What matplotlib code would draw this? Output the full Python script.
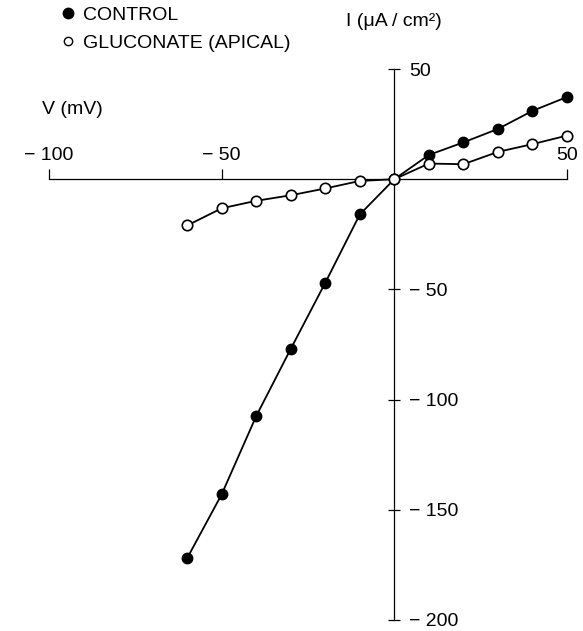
import matplotlib.pyplot as plt
from matplotlib.lines import Line2D

plt.rcParams['font.family'] = ['Liberation Sans', 'DejaVu Sans']
plt.rcParams['font.size'] = 14

# ====data====
voltage = [-60, -50, -40, -30, -20, -10, 0, 10, 20, 30, 40, 50]           # mV
control = [-172, -143, -107.5, -77, -47, -16, 0, 11, 16.7, 22.8, 31, 37.3]  # uA/cm2
gluconate = [-21, -13.2, -9.8, -7.3, -4.2, -0.8, 0, 7.1, 6.8, 12.4, 15.9, 19.8]

x_ticks = [-100, -50, 50]
x_tick_labels = ['\u2212 100', '\u2212 50', '50']
y_ticks = [50, -50, -100, -150, -200]
y_tick_labels = ['50', '\u2212 50', '\u2212 100', '\u2212 150', '\u2212 200']

# ====figure setup====
W, H = 583, 631
fig = plt.figure(figsize=(W / 100, H / 100), dpi=100)
ax = fig.add_axes([49 / W, 11 / H, 518 / W, 551 / H])
ax.set_xlim(-100, 50)
ax.set_ylim(-200, 50)

# Axes cross at the origin: x labels above the axis, y labels to the right
ax.spines['bottom'].set_visible(False)
ax.spines['left'].set_visible(False)
ax.spines['top'].set_position(('data', 0))
ax.spines['right'].set_position(('data', 0))
for s in ('top', 'right'):
    ax.spines[s].set_linewidth(0.9)
ax.xaxis.set_ticks_position('top')
ax.yaxis.set_ticks_position('right')
ax.set_xticks(x_ticks, x_tick_labels)
ax.set_yticks(y_ticks, y_tick_labels)
ax.tick_params(axis='x', direction='out', length=7, width=0.9, pad=4)
ax.tick_params(axis='y', direction='inout', length=9, width=0.9, pad=6)

# Current-voltage curves
ax.plot(voltage, control, color='black', lw=1.3, marker='o', ms=7.5,
        mfc='black', mec='black', clip_on=False, zorder=3)
ax.plot(voltage, gluconate, color='black', lw=1.3, marker='o', ms=7.5,
        mfc='white', mec='black', mew=1.2, clip_on=False, zorder=4)

# Legend
handles = [Line2D([], [], ls='none', marker='o', ms=7.5, mfc='black', mec='black'),
           Line2D([], [], ls='none', marker='o', ms=6, mfc='white', mec='black', mew=1.0)]
fig.legend(handles, ['CONTROL', 'GLUCONATE (APICAL)'], loc='upper left',
           bbox_to_anchor=(60 / W, 1 - 6 / H), frameon=False, borderpad=0,
           borderaxespad=0, handlelength=0.8, handletextpad=0.4, labelspacing=0.55)

# Axis titles
fig.text(42 / W, 1 - 110 / H, 'V (mV)', ha='left', va='center')
fig.text(346 / W, 1 - 22 / H, 'I (\u03bcA / cm\u00b2)', ha='left', va='center')

fig.savefig('out.png', dpi=100)
